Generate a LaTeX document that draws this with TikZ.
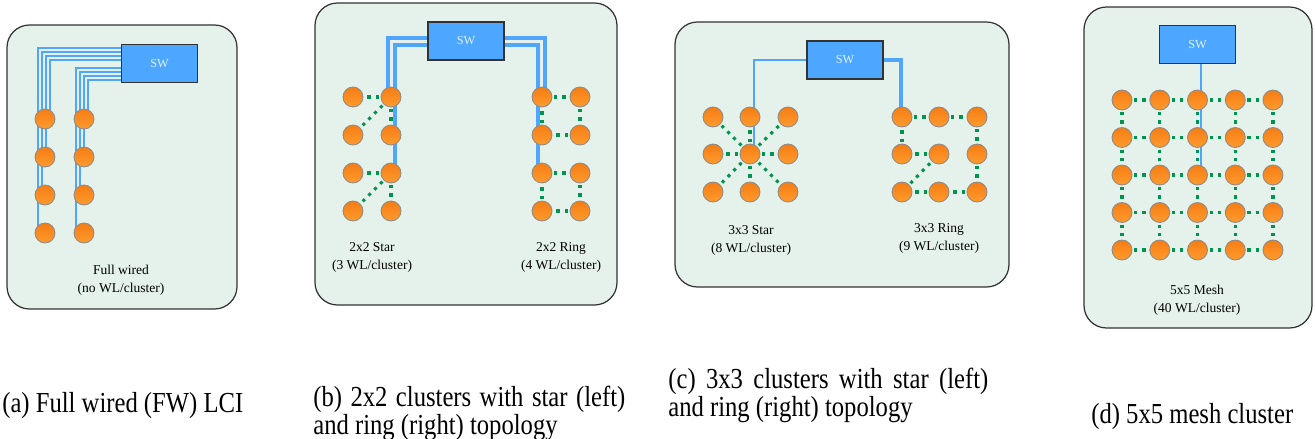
\documentclass[tikz,border=0pt]{standalone}
\usepackage{fontspec}
\setmainfont{Liberation Serif}
\newfontfamily\capfont{Liberation Serif}[FakeStretch=0.85]
\usetikzlibrary{calc}

\definecolor{panelgreen}{RGB}{228,242,235}
\definecolor{swblue}{RGB}{77,166,255}
\definecolor{swtext}{RGB}{225,240,255}
\definecolor{wireblue}{RGB}{80,165,255}
\definecolor{wlgreen}{RGB}{0,148,80}
\definecolor{coretop}{RGB}{245,125,20}
\definecolor{corebot}{RGB}{255,155,45}

\pgfdeclarelayer{panels}
\pgfdeclarelayer{links}
\pgfsetlayers{panels,links,main}

\tikzset{
  panel/.style={draw=black!80, line width=0.7pt, fill=panelgreen, rounded corners=0.45cm},
  swbox/.style={draw=black!80, line width=0.7pt, fill=swblue, text=swtext,
    minimum width=1.52cm, minimum height=0.76cm, inner sep=0pt, font=\fontsize{7}{8}\selectfont},
  core/.style={circle, draw=black!45, line width=0.5pt, top color=coretop, bottom color=corebot,
    minimum size=0.4cm, inner sep=0pt},
  wl/.style={wlgreen, line width=1.8pt, dash pattern=on 1.8pt off 2.9pt, dash phase=3.7pt},
  wire/.style={wireblue, line width=#1},
  wire/.default=1pt,
  tag/.style={align=center, font=\fontsize{7.7}{10.2}\selectfont},
  subcap/.style={anchor=base west, inner sep=0pt, font=\capfont\fontsize{16.5}{14.8}\selectfont}
}

\begin{document}
\begin{tikzpicture}[x=0.02cm, y=-0.02cm]
\useasboundingbox (0,0) rectangle (1315,439);

\begin{pgfonlayer}{panels}
\draw[panel] (7,25) rectangle (237,309);
\draw[panel] (315,3) rectangle (617,305);
\draw[panel] (675,22) rectangle (1009,287);
\draw[panel] (1084,7) rectangle (1312,328);
\end{pgfonlayer}

% (a) full wired
\node[swbox] (swa) at (159.5,63.5) {SW};
\foreach \y [count=\i] in {119,157,195,233} {
  \node[core] (a1\i) at (45,\y) {};
  \node[core] (a2\i) at (84,\y) {};
}
\begin{pgfonlayer}{links}
\foreach \k in {0,...,3} {
  \pgfmathtruncatemacro\n{4-\k}
  \draw[wire=1.1pt] ($(swa.west |- 0,48)+(0,4*\k)$) -| ($(a1\n.center)+(-7+4*\k,0)$);
  \draw[wire=1.1pt] ($(swa.west |- 0,68)+(0,4*\k)$) -| ($(a2\n.center)+(-8+4*\k,0)$);
}
\end{pgfonlayer}
\node[tag] (ta) at (121,280.5) {Full wired\\(no WL/cluster)};

% (b) 2x2 star / ring
\node[swbox] (swb) at (466,41) {SW};
\foreach \y [count=\i] in {97,135,173,211} {
  \node[core] (bs1\i) at (353,\y) {};
  \node[core] (bs2\i) at (391,\y) {};
  \node[core] (br1\i) at (542,\y) {};
  \node[core] (br2\i) at (580,\y) {};
}
\begin{pgfonlayer}{links}
\draw[wire=2.3pt] (swb.west |- 0,38) -| ($(bs21.center)+(-3,0)$);
\draw[wire=2.3pt] (swb.west |- 0,45) -| ($(bs23.center)+(4,0)$);
\draw[wire=2.3pt] (swb.east |- 0,38) -| ($(br11.center)+(3,0)$);
\draw[wire=2.3pt] (swb.east |- 0,45) -| ($(br13.center)+(-4,0)$);
\foreach \r/\s in {1/2,3/4} {
  \draw[wl] (bs2\r) -- (bs1\r);
  \draw[wl] (bs2\r) -- (bs1\s);
  \draw[wl] (bs2\r) -- (bs2\s);
  \draw[wl] (br1\r) -- (br2\r);
  \draw[wl] (br2\r) -- (br2\s);
  \draw[wl] (br2\s) -- (br1\s);
  \draw[wl] (br1\s) -- (br1\r);
}
\end{pgfonlayer}
\node[tag] (tbs) at (372,257.5) {2x2 Star\\(3 WL/cluster)};
\node[tag] (tbr) at (561,257.5) {2x2 Ring\\(4 WL/cluster)};

% (c) 3x3 star / ring
\node[swbox] (swc) at (845,60) {SW};
\foreach \x [count=\j] in {713,750,788} {
  \foreach \y [count=\i] in {117,154,192} {
    \node[core] (cs\j\i) at (\x,\y) {};
    \node[core] (cr\j\i) at (\x+189,\y) {};
  }
}
\begin{pgfonlayer}{links}
\draw[wire=1pt] (swc.west |- 0,60) -| ($(cs22.center)+(4,0)$);
\draw[wire=2pt] (swc.east |- 0,60) -| ($(cr11.center)+(-1,0)$);
\foreach \j/\i in {1/1,2/1,3/1,1/2,3/2,1/3,2/3,3/3}
  \draw[wl] (cs22) -- (cs\j\i);
\foreach \p/\q in {11/21,21/31,31/32,32/33,33/23,23/13,13/22,22/12,12/11}
  \draw[wl] (cr\p) -- (cr\q);
\end{pgfonlayer}
\node[tag] (tcs) at (751,240) {3x3 Star\\(8 WL/cluster)};
\node[tag] (tcr) at (939,238.5) {3x3 Ring\\(9 WL/cluster)};

% (d) 5x5 mesh
\node[swbox] (swd) at (1197.5,44.5) {SW};
\foreach \j in {1,...,5} {
  \foreach \i in {1,...,5}
    \node[core] (m\j\i) at ({1122+37.75*(\j-1)},{100+37.5*(\i-1)}) {};
}
\begin{pgfonlayer}{links}
\draw[wire=1.1pt] ($(swd.south)+(3.5,0)$) -- ($(m33.center)+(3.5,0)$);
\foreach \j in {1,...,5} {
  \foreach \i [evaluate=\i as \ii using int(\i+1)] in {1,...,4} {
    \draw[wl] (m\j\i) -- (m\j\ii);
    \draw[wl] (m\i\j) -- (m\ii\j);
  }
}
\end{pgfonlayer}
\node[tag] (tm) at (1197,300) {5x5 Mesh\\(40 WL/cluster)};

% captions
\node[subcap] (capa) at (2,412.5) {(a) Full wired (FW) LCI};
\node[subcap, text width=6.24cm, align=justify] (capb) at (313,406)
  {\tolerance=10000 \hyphenpenalty=10000 (b) 2x2 clusters with star (left) and ring (right) topology};
\node[subcap, text width=6.4cm, align=justify] (capc) at (668,388)
  {\tolerance=10000 \hyphenpenalty=10000 (c) 3x3 clusters with star (left) and ring (right) topology};
\node[subcap] (capd) at (1091,423) {(d) 5x5 mesh cluster};

\end{tikzpicture}
\end{document}
